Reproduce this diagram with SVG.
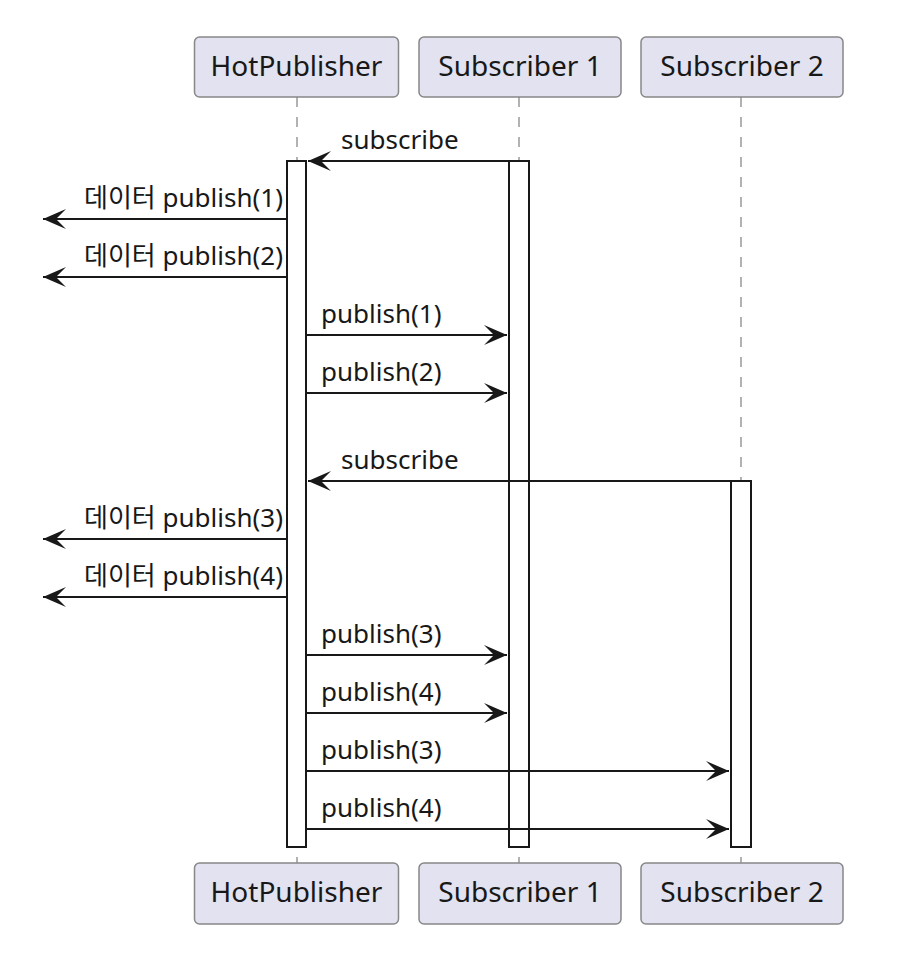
<svg xmlns="http://www.w3.org/2000/svg" width="922" height="956" viewBox="0 0 922 956">
<style>
.pbox{fill:#E2E2F0;stroke:#888;stroke-width:1.5}
.pt{font-family:"Noto Sans","Liberation Sans",sans-serif;font-size:28px;fill:#181818;text-anchor:middle}
.life{stroke:#999;stroke-width:1.5;stroke-dasharray:10,10;fill:none}
.act{fill:#fff;stroke:#181818;stroke-width:2}
.msg{stroke:#181818;stroke-width:2;fill:none}
.ml{font-family:"Noto Sans","Noto Sans CJK KR","Liberation Sans",sans-serif;font-size:26px;fill:#181818}
.end{text-anchor:end}
</style>
<defs>
<marker id="ah" markerUnits="userSpaceOnUse" viewBox="0 -11 24 22" refX="24" refY="0" markerWidth="24" markerHeight="22" orient="auto">
<path d="M24,0 L1,-10 L11,0 L1,10 Z" fill="#181818"/>
</marker>
</defs>
<g id="lifelines">
<line class="life" x1="297" y1="97" x2="297" y2="863"/>
<line class="life" x1="519" y1="97" x2="519" y2="863"/>
<line class="life" x1="741" y1="97" x2="741" y2="863"/>
</g>
<g id="activations">
<rect class="act" x="287" y="161" width="19" height="686"/>
<rect class="act" x="509" y="161" width="20" height="686"/>
<rect class="act" x="731" y="481" width="20" height="366"/>
</g>
<g id="HotPublisher">
<rect class="pbox" x="194.5" y="37" width="204" height="60" rx="5"/>
<text class="pt" x="296.5" y="76">HotPublisher</text>
<rect class="pbox" x="194.5" y="863" width="204" height="61" rx="5"/>
<text class="pt" x="296.5" y="902">HotPublisher</text>
</g>
<g id="Subscriber1">
<rect class="pbox" x="419" y="37" width="202" height="60" rx="5"/>
<text class="pt" x="520" y="76">Subscriber 1</text>
<rect class="pbox" x="419" y="863" width="202" height="61" rx="5"/>
<text class="pt" x="520" y="902">Subscriber 1</text>
</g>
<g id="Subscriber2">
<rect class="pbox" x="641" y="37" width="202" height="60" rx="5"/>
<text class="pt" x="742" y="76">Subscriber 2</text>
<rect class="pbox" x="641" y="863" width="202" height="61" rx="5"/>
<text class="pt" x="742" y="902">Subscriber 2</text>
</g>
<g id="connectors">
<line class="msg" x1="529" y1="161" x2="308" y2="161" marker-end="url(#ah)"/>
<text class="ml" x="341" y="149">subscribe</text>
<line class="msg" x1="287" y1="219" x2="43" y2="219" marker-end="url(#ah)"/>
<text class="ml end" x="283" y="207">데이터 publish(1)</text>
<line class="msg" x1="287" y1="277" x2="43" y2="277" marker-end="url(#ah)"/>
<text class="ml end" x="283" y="265">데이터 publish(2)</text>
<line class="msg" x1="306" y1="335" x2="507" y2="335" marker-end="url(#ah)"/>
<text class="ml" x="321" y="323">publish(1)</text>
<line class="msg" x1="306" y1="393" x2="507" y2="393" marker-end="url(#ah)"/>
<text class="ml" x="321" y="381">publish(2)</text>
<line class="msg" x1="751" y1="481" x2="308" y2="481" marker-end="url(#ah)"/>
<text class="ml" x="341" y="469">subscribe</text>
<line class="msg" x1="287" y1="539" x2="43" y2="539" marker-end="url(#ah)"/>
<text class="ml end" x="283" y="527">데이터 publish(3)</text>
<line class="msg" x1="287" y1="597" x2="43" y2="597" marker-end="url(#ah)"/>
<text class="ml end" x="283" y="585">데이터 publish(4)</text>
<line class="msg" x1="306" y1="655" x2="507" y2="655" marker-end="url(#ah)"/>
<text class="ml" x="321" y="643">publish(3)</text>
<line class="msg" x1="306" y1="713" x2="507" y2="713" marker-end="url(#ah)"/>
<text class="ml" x="321" y="701">publish(4)</text>
<line class="msg" x1="306" y1="771" x2="729" y2="771" marker-end="url(#ah)"/>
<text class="ml" x="321" y="759">publish(3)</text>
<line class="msg" x1="306" y1="829" x2="729" y2="829" marker-end="url(#ah)"/>
<text class="ml" x="321" y="817">publish(4)</text>
</g>
</svg>
